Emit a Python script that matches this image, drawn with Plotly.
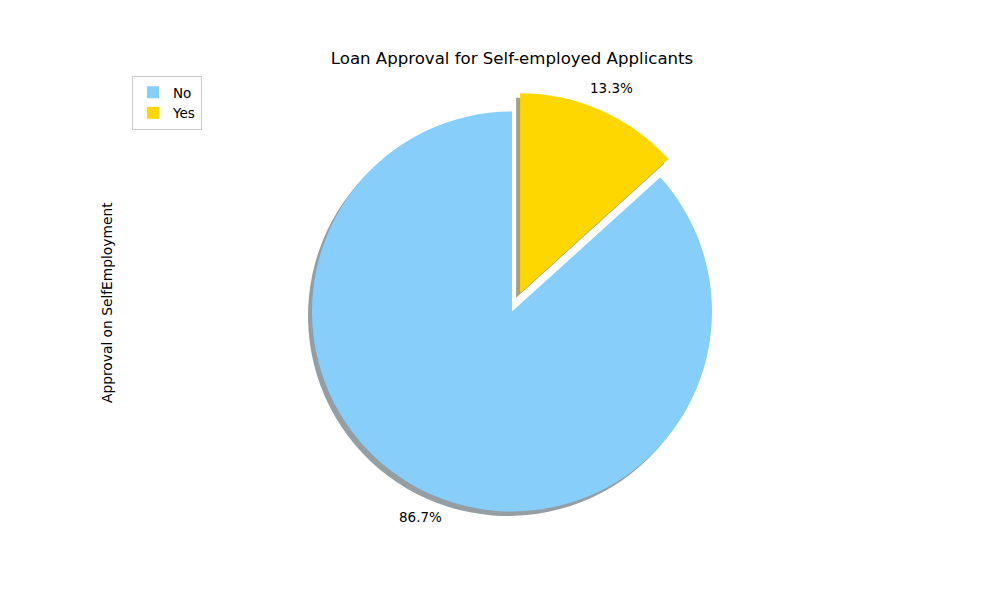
import math
import plotly.graph_objects as go

labels = ["No", "Yes"]
values = [86.7, 13.3]
colors = ["#87CEFA", "#FFD700"]
shadow_colors = ["rgb(148,158,165)", "rgb(166,160,127)"]
pulls = [0, 0.1]

W, H = 1000, 600
cx, cy = 512, 311.5        # pie centre in pixels (from top-left)
r = 200                    # pie radius in pixels
half = r * (1 + max(pulls))
sx, sy = -4, 4.5           # shadow offset in pixels
label_dist = 1.125         # percentage label distance (fraction of radius)

total = sum(values)
# first slice ("No") runs counter-clockwise from 12 o'clock, as in the reference
rot = 360 * values[1] / total

def dom(dx=0, dy=0):
    x0 = (cx + dx - half) / W
    x1 = (cx + dx + half) / W
    y0 = (H - (cy + dy) - half) / H
    y1 = (H - (cy + dy) + half) / H
    return dict(x=[x0, x1], y=[y0, y1])

fig = go.Figure()
fig.add_trace(go.Pie(
    labels=labels, values=values, sort=False, direction="clockwise",
    rotation=rot, pull=pulls, marker=dict(colors=shadow_colors, line=dict(width=0)),
    textinfo="none", showlegend=False, hoverinfo="skip", domain=dom(sx, sy),
))
fig.add_trace(go.Pie(
    labels=labels, values=values, sort=False, direction="clockwise",
    rotation=rot, pull=pulls, marker=dict(colors=colors, line=dict(width=0)),
    textinfo="none", domain=dom(),
))

# percentage labels placed matplotlib-style along each slice's mid angle
annotations = []
cum = 0.0
for lab, v, p in zip(labels, values, pulls):
    mid = math.radians(90 + 360 * (cum + v / 2) / total)
    cum += v
    d = (p + label_dist) * r
    px = cx + d * math.cos(mid)
    py = cy - d * math.sin(mid)
    annotations.append(dict(text=f"{100 * v / total:.1f}%", x=px / W, y=(H - py) / H,
                            xref="paper", yref="paper", showarrow=False,
                            xanchor="center", yanchor="middle",
                            font=dict(size=13.5, family="DejaVu Sans", color="black")))

annotations.append(dict(text="Approval on SelfEmployment", textangle=-90,
                        x=107 / W, y=(H - 303) / H, xref="paper", yref="paper",
                        showarrow=False, xanchor="center", yanchor="middle",
                        font=dict(size=13.8, family="DejaVu Sans", color="black")))

fig.update_layout(
    width=W, height=H,
    margin=dict(l=0, r=0, t=0, b=0),
    paper_bgcolor="white", plot_bgcolor="white",
    font=dict(family="DejaVu Sans", size=13.5, color="black"),
    title=dict(text="Loan Approval for Self-employed Applicants",
               x=0.512, y=(H - 58) / H, xanchor="center", yanchor="middle",
               font=dict(size=16.6, family="DejaVu Sans", color="black")),
    legend=dict(x=0.132, y=(H - 76) / H, xanchor="left", yanchor="top",
                bordercolor="#cccccc", borderwidth=1, bgcolor="white",
                font=dict(size=13.5, family="DejaVu Sans")),
    annotations=annotations,
)

fig.write_html("out.html")
